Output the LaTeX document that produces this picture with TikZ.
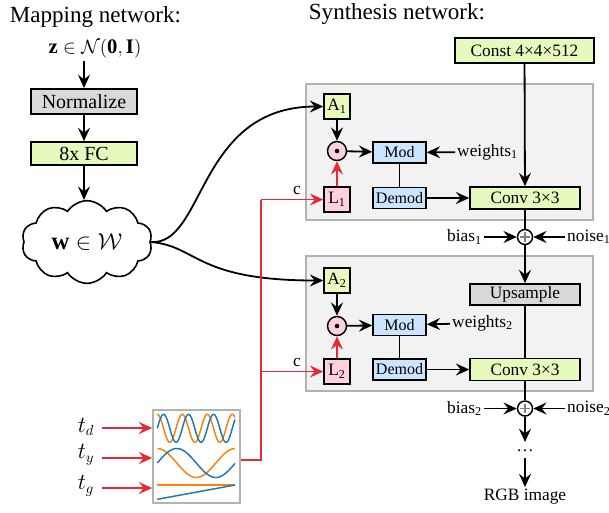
\documentclass[tikz,border=0pt]{standalone}
\usepackage{fontspec}
\setmainfont{Liberation Serif}
\usetikzlibrary{shapes.symbols,arrows.meta}
\definecolor{boxgreen}{RGB}{230,250,190}
\definecolor{boxgray}{RGB}{217,217,217}
\definecolor{boxblue}{RGB}{204,229,255}
\definecolor{boxpink}{RGB}{255,208,222}
\definecolor{blockfill}{RGB}{242,242,242}
\definecolor{blockline}{RGB}{178,178,178}
\definecolor{redline}{RGB}{232,40,50}
\definecolor{wavorange}{RGB}{255,127,14}
\definecolor{wavblue}{RGB}{31,119,180}
\begin{document}
\begin{tikzpicture}[x=0.75pt,y=-0.75pt,
  line width=1.35pt,
  arr/.style={-{Stealth[length=10pt,width=9pt,inset=3.6pt]}},
  box/.style={draw,rectangle,inner sep=0pt,line width=1.2pt},
  bigbox/.style={box,minimum width=79.5pt,minimum height=19pt,font=\fontsize{15}{18}\selectfont},
  convbox/.style={box,fill=boxgreen,minimum width=82.5pt,minimum height=16.5pt,font=\fontsize{13}{15}\selectfont},
  modbox/.style={box,fill=boxblue,minimum width=39.75pt,minimum height=16pt,font=\fontsize{12}{14}\selectfont},
  smallbox/.style={box,minimum width=19.5pt,minimum height=18.75pt,font=\fontsize{13}{15}\selectfont},
  dotnode/.style={draw,circle,fill=boxpink,minimum size=14.25pt,inner sep=0pt,line width=1.1pt},
  plusnode/.style={draw,circle,fill=white,minimum size=11.25pt,inner sep=0pt,line width=1.1pt,
    path picture={\draw[gray,line width=0.9pt] ([xshift=2pt]path picture bounding box.west) -- ([xshift=-2pt]path picture bounding box.east);
                  \draw[gray,line width=0.9pt] ([yshift=-2pt]path picture bounding box.north) -- ([yshift=2pt]path picture bounding box.south);}},
  lbl/.style={inner sep=1pt,font=\fontsize{13}{15}\selectfont},
  title/.style={font=\fontsize{17.3}{20}\selectfont,inner sep=0pt},
  redarr/.style={draw=redline,line width=1.35pt,-{Stealth[length=10pt,width=9pt,inset=3.6pt]}},
  block/.style={draw=blockline,fill=blockfill,line width=1.3pt}
]
\useasboundingbox (0,0) rectangle (609,512);

% titles
\node[title,anchor=west] (tmap) at (9,17) {Mapping network:};
\node[title,anchor=west] (tsyn) at (308,14) {Synthesis network:};

% mapping network
\node[inner sep=1pt,font=\fontsize{15.5}{18}\selectfont] (z) at (95,49) {$\mathbf{z}\in\mathcal{N}(\mathbf{0},\mathbf{I})$};
\node[bigbox,fill=boxgray] (norm) at (84,101.5) {Normalize};
\node[bigbox,fill=boxgreen,minimum height=17.25pt] (fc) at (84,153.5) {8x FC};
\node[draw,cloud,cloud puffs=10,cloud puff arc=115,aspect=1.6,inner sep=0pt,minimum width=98pt,minimum height=62pt,line width=1.2pt,font=\fontsize{18.5}{20}\selectfont] (w) at (87,242) {$\mathbf{w}\in\mathcal{W}$};
\draw[arr] (z.south -| norm.north) -- (norm);
\draw[arr] (norm) -- (fc);
\draw[arr] (fc) -- (fc |- w.north);

% synthesis blocks
\draw[block] (306,84) rectangle (593,220);
\draw[block] (306,256) rectangle (593,391);

\node[convbox,minimum width=104.25pt,minimum height=18.75pt] (const) at (524.5,50.5) {Const 4×4×512};

% block 1
\node[smallbox,fill=boxgreen] (A1) at (337,106.5) {A\textsubscript{1}};
\node[dotnode] (d1) at (337,151) {};
\fill (d1) circle (1.7pt);
\node[smallbox,fill=boxpink] (L1) at (337,199.5) {L\textsubscript{1}};
\node[modbox] (mod1) at (399.5,152.5) {Mod};
\node[modbox] (dem1) at (399.5,198) {Demod};
\node[convbox] (conv1) at (525,198) {Conv 3×3};
\node[plusnode] (p1) at (525,237) {};
\node[lbl,anchor=west] (wt1) at (455,152) {weights\textsubscript{1}};
\node[lbl,anchor=east] (b1) at (484,237) {bias\textsubscript{1}};
\node[lbl,anchor=west] (n1) at (565,237) {noise\textsubscript{1}};

\draw[arr] (A1) -- (d1);
\draw[redarr] (L1) -- (d1);
\draw[arr] (d1) -- (mod1);
\draw (mod1) -- (dem1);
\draw[arr] (dem1) -- (conv1);
\draw[arr] (wt1) -- (mod1);
\draw[arr] (const) -- (conv1);
\draw (conv1) -- (p1);
\draw[arr] (b1) -- (p1);
\draw[arr] (n1) -- (p1);

% block 2
\node[smallbox,fill=boxgreen] (A2) at (337,280.5) {A\textsubscript{2}};
\node[dotnode] (d2) at (337,326) {};
\fill (d2) circle (1.7pt);
\node[smallbox,fill=boxpink] (L2) at (337,371.5) {L\textsubscript{2}};
\node[modbox] (mod2) at (399.5,325) {Mod};
\node[modbox] (dem2) at (399.5,369.5) {Demod};
\node[convbox,fill=boxgray,minimum height=15.75pt] (up) at (525,294.5) {Upsample};
\node[convbox] (conv2) at (525,369.5) {Conv 3×3};
\node[plusnode] (p2) at (525,408.5) {};
\node[lbl,anchor=west] (wt2) at (450,323) {weights\textsubscript{2}};
\node[lbl,anchor=east] (b2) at (484,408.5) {bias\textsubscript{2}};
\node[lbl,anchor=west] (n2) at (565,408.5) {noise\textsubscript{2}};

\draw[arr] (A2) -- (d2);
\draw[redarr] (L2) -- (d2);
\draw[arr] (d2) -- (mod2);
\draw (mod2) -- (dem2);
\draw[arr] (dem2) -- (conv2);
\draw[arr] (wt2) -- (mod2);
\draw[arr] (p1) -- (up);
\draw (up) -- (conv2);
\draw (conv2) -- (p2);
\draw[arr] (b2) -- (p2);
\draw[arr] (n2) -- (p2);

% output
\node[lbl] (dots) at (525,451) {\dots};
\node[lbl] (rgb) at (525,497) {RGB image};
\draw[arr] (p2) -- (525,442) coordinate (e1);
\draw[arr] (525,458) coordinate (s2) -- (rgb);

% curves from w
\draw[arr] (w.east) .. controls (205,246) and (197,106.5) .. (A1.west);
\draw[arr] (w.east) .. controls (198,246) and (195,280.5) .. (A2.west);

% waves box
\node[draw=blockline,fill=white,line width=1.2pt,minimum width=65.25pt,minimum height=69.75pt,inner sep=0pt] (wav) at (196.5,456.5) {};
\begin{scope}[line width=1.1pt]
\draw[wavorange] plot[domain=157.3:235,samples=120] (\x,{428.3-14*cos(14.4*(\x-157.3))});
\draw[wavblue] plot[domain=157.3:235,samples=120] (\x,{428.3-14*sin(14.4*(\x-157.3))});
\draw[wavorange] plot[domain=157.3:235,samples=80] (\x,{463-14.5*cos(4.615*(\x-157.3))});
\draw[wavblue] plot[domain=157.3:235,samples=80] (\x,{463-14.5*sin(4.615*(\x-157.3))});
\draw[wavorange] (157.3,485) -- (235,485);
\draw[wavblue] (157.3,499.3) -- (235,485);
\end{scope}

% t inputs
\node[inner sep=1pt,font=\fontsize{16}{18}\selectfont] (td) at (86,427) {$t_d$};
\node[inner sep=1pt,font=\fontsize{16}{18}\selectfont] (ty) at (86,455) {$t_y$};
\node[inner sep=1pt,font=\fontsize{16}{18}\selectfont] (tg) at (86,486) {$t_g$};
\draw[redarr] (102,428) coordinate (tds) -- (wav.west |- tds);
\draw[redarr] (102,458) coordinate (tys) -- (wav.west |- tys);
\draw[redarr] (102,488) coordinate (tgs) -- (wav.west |- tgs);

% red c lines
\coordinate (junc) at (261,460);
\draw[draw=redline,line width=1.35pt] (wav.east |- junc) -- (junc) -- (261,199.5) coordinate (jt);
\draw[redarr] (jt) -- (L1.west);
\draw[redarr] (261,371.5) coordinate (jb) -- (L2.west);
\node[lbl] (c1) at (297,190) {c};
\node[lbl] (c2) at (297,362) {c};
\end{tikzpicture}
\end{document}
